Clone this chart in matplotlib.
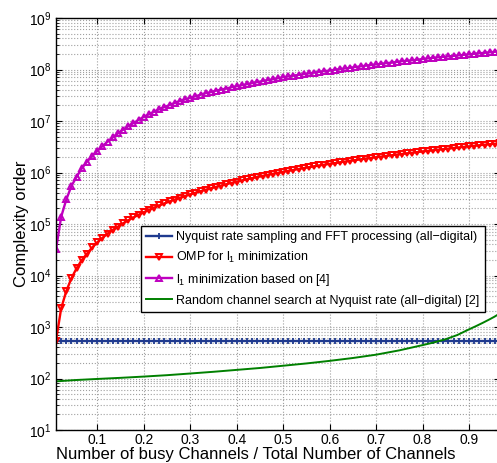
import numpy as np
import matplotlib
matplotlib.use("Agg")
import matplotlib.pyplot as plt
from matplotlib.ticker import FixedLocator, NullFormatter, LogFormatterSciNotation

plt.rcParams['font.family'] = ['Liberation Sans', 'DejaVu Sans']
plt.rcParams['mathtext.fontset'] = 'custom'
plt.rcParams['mathtext.rm'] = 'Liberation Sans'
plt.rcParams['mathtext.it'] = 'Liberation Sans:italic'

# busy channels k out of 90 channels
busy = np.arange(1, 88)
total_channels = 90
x = busy / total_channels

# Nyquist rate sampling + FFT (flat)
nyquist = [540] * len(busy)

# OMP for l1 minimization
omp = [540, 2300, 5000, 8900, 13900, 20000, 26500, 35000, 44000,
       54000, 65000, 77000, 89000, 103000, 118000, 134000, 151000, 169000, 188000,
       208000, 229000, 251000, 274000, 298000, 323000, 349000, 376000, 404000, 433000,
       463000, 494000, 526000, 559000, 593000, 628000, 664000, 701000, 739000, 778000,
       818000, 859000, 900000, 943000, 987000, 1030000, 1080000, 1120000, 1170000, 1220000,
       1270000, 1320000, 1370000, 1420000, 1470000, 1520000, 1580000, 1630000, 1690000, 1740000,
       1800000, 1860000, 1920000, 1980000, 2040000, 2100000, 2160000, 2230000, 2290000, 2360000,
       2420000, 2490000, 2560000, 2630000, 2700000, 2770000, 2840000, 2910000, 2990000, 3060000,
       3140000, 3220000, 3300000, 3380000, 3460000, 3540000, 3620000, 3700000]

# l1 minimization based on [4]
l1_min = [3.2e4, 1.38e5, 3.0e5, 5.5e5, 8.3e5, 1.2e6, 1.62e6, 2.09e6, 2.63e6,
          3.24e6, 3.98e6, 4.79e6, 5.75e6, 6.76e6, 7.94e6, 9.12e6, 1.05e7, 1.20e7, 1.35e7,
          1.51e7, 1.70e7, 1.86e7, 2.04e7, 2.24e7, 2.45e7, 2.63e7, 2.82e7, 3.02e7, 3.24e7,
          3.47e7, 3.63e7, 3.89e7, 4.07e7, 4.27e7, 4.52e7, 4.73e7, 4.95e7, 5.19e7, 5.43e7,
          5.69e7, 5.96e7, 6.24e7, 6.46e7, 6.76e7, 7.08e7, 7.33e7, 7.59e7, 7.85e7, 8.13e7,
          8.41e7, 8.71e7, 9.02e7, 9.33e7, 9.55e7, 9.89e7, 1.02e8, 1.05e8, 1.08e8, 1.12e8,
          1.15e8, 1.19e8, 1.22e8, 1.26e8, 1.29e8, 1.33e8, 1.36e8, 1.40e8, 1.45e8, 1.48e8,
          1.51e8, 1.55e8, 1.60e8, 1.64e8, 1.68e8, 1.72e8, 1.76e8, 1.80e8, 1.84e8, 1.88e8,
          1.93e8, 1.97e8, 2.02e8, 2.07e8, 2.11e8, 2.16e8, 2.21e8, 2.26e8]

# random channel search at Nyquist rate (read at a few x positions)
rand_x = [0.011, 0.05, 0.1, 0.15, 0.2, 0.25, 0.3, 0.35, 0.4, 0.45, 0.5, 0.55, 0.6,
          0.65, 0.7, 0.75, 0.8, 0.825, 0.85, 0.875, 0.9, 0.915, 0.93, 0.945, 0.955, 0.967]
rand_search = [88, 93, 98, 103, 109, 116, 125, 135, 147, 160, 177, 196, 220,
               250, 290, 352, 445, 503, 580, 700, 900, 1040, 1210, 1420, 1590, 1850]

x_ticks = [0.1, 0.2, 0.3, 0.4, 0.5, 0.6, 0.7, 0.8, 0.9]
x_ticklabels = ['0.1', '0.2', '0.3', '0.4', '0.5', '0.6', '0.7', '0.8', '0.9']
y_ticks = [1e1, 1e2, 1e3, 1e4, 1e5, 1e6, 1e7, 1e8, 1e9]

labels = ['Nyquist rate sampling and FFT processing (all\u2212digital)',
          'OMP for l$_\\mathregular{1}$ minimization',
          'l$_\\mathregular{1}$ minimization based on [4]',
          'Random channel search at Nyquist rate (all\u2212digital) [2]']

W, H = 497, 463
fig = plt.figure(figsize=(W / 100, H / 100), dpi=100)
ax = fig.add_axes([56 / W, 33 / H, 444 / W, 412 / H])

ax.plot(x, nyquist, color='#1f3a8f', lw=1.7, marker='+', ms=5, mew=1.3, label=labels[0])
ax.plot(x, omp, color='#ff0000', lw=1.7, marker='v', ms=4.8, mfc='none', mew=1.4, label=labels[1])
ax.plot(x, l1_min, color='#bf00bf', lw=1.7, marker='^', ms=4.8, mfc='none', mew=1.4, label=labels[2])
ax.plot(rand_x, rand_search, color='#008000', lw=1.4, label=labels[3])

ax.set_yscale('log')
ax.set_xlim(1 / total_channels, 87 / total_channels)
ax.set_ylim(10, 1e9)
ax.xaxis.set_major_locator(FixedLocator(x_ticks))
ax.set_xticklabels(x_ticklabels)
ax.yaxis.set_major_locator(FixedLocator(y_ticks))
ax.yaxis.set_major_formatter(LogFormatterSciNotation())
minor_y = [m * d for d in y_ticks[:-1] for m in range(2, 10)]
ax.yaxis.set_minor_locator(FixedLocator(minor_y))
ax.yaxis.set_minor_formatter(NullFormatter())

ax.grid(True, which='major', ls=':', color='#a0a0a0', lw=0.8)
ax.grid(True, which='minor', axis='y', ls=':', color='#a0a0a0', lw=0.8)
ax.tick_params(which='both', direction='in', top=True, right=True, labelsize=10)
ax.tick_params(which='major', length=4)
ax.tick_params(which='minor', length=2)
ax.tick_params(axis='x', pad=2)
for sp in ax.spines.values():
    sp.set_linewidth(1.0)

ax.set_xlabel('Number of busy Channels / Total Number of Channels', fontsize=12)
ax.xaxis.set_label_coords((256 - 56) / 444, -16.5 / 412)
ax.set_ylabel('Complexity order', fontsize=12)
ax.yaxis.set_label_coords((29 - 56) / 444, 0.5)

leg = ax.legend(loc='upper left', bbox_to_anchor=(141 / W, 1 - 226 / H),
                bbox_transform=fig.transFigure, borderaxespad=0, fancybox=False,
                edgecolor='k', framealpha=1, numpoints=1, fontsize=9.0,
                handlelength=2.1, handletextpad=0.32, labelspacing=0.55,
                borderpad=0.4)
leg.get_frame().set_linewidth(1.0)

fig.savefig('out.png', dpi=100)
